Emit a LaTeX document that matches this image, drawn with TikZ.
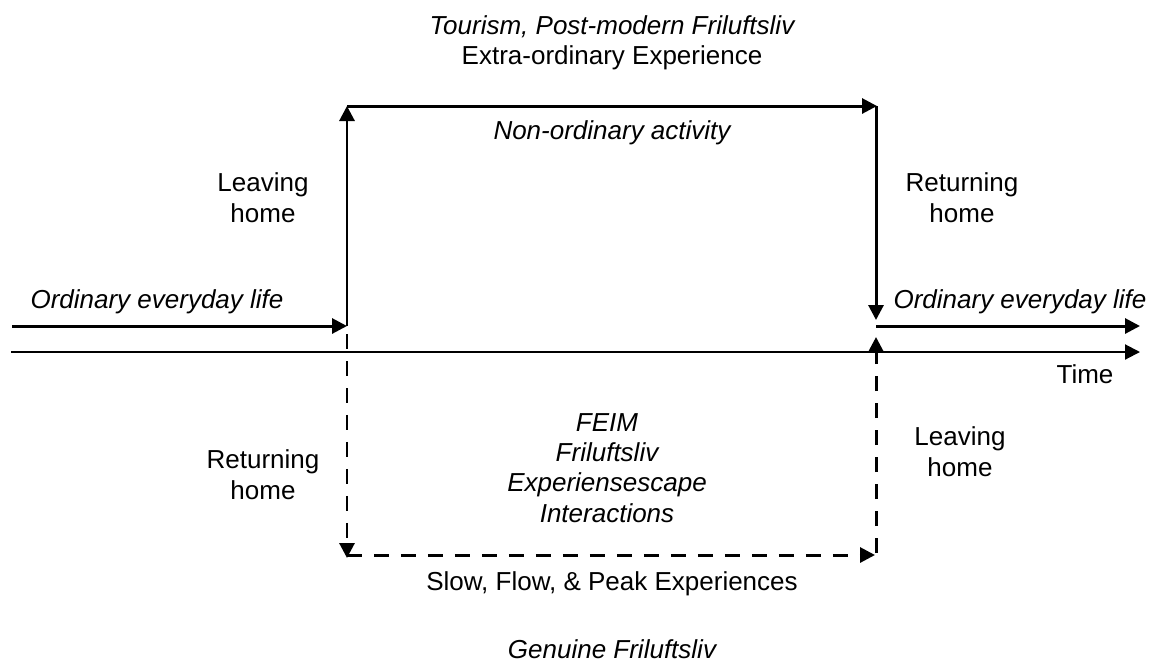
\documentclass[tikz,border=0pt]{standalone}
\usepackage{fontspec}
\setmainfont{Liberation Sans}
\usetikzlibrary{arrows.meta}
\begin{document}
\begin{tikzpicture}[x=0.02cm,y=-0.02cm,
  lbl/.style={font=\fontsize{14.8}{17.1}\selectfont, align=center, inner sep=0pt, anchor=base},
  ilbl/.style={lbl, font=\fontsize{14.8}{17.1}\selectfont\itshape},
  tip/.style={-{Triangle[length=0.3cm,width=0.3cm]}},
  solidflow/.style={line width=1.7pt, tip},
  dashflow/.style={line width=1.7pt, tip, dash pattern=on 0.3cm off 0.24cm},
  axis/.style={line width=1.15pt, tip}
]
\useasboundingbox (0,0) rectangle (1159,664);
% coordinates
\coordinate (L0) at (12,326);
\coordinate (LB) at (347,326);
\coordinate (LT) at (347,106);
\coordinate (RT) at (877,106);
\coordinate (RTd) at (876,106);
\coordinate (RB) at (876,320);
\coordinate (R0) at (876,326);
\coordinate (R1) at (1140,326);
\coordinate (T0) at (11,352);
\coordinate (T1) at (1140,352);
\coordinate (DL0) at (347,334);
\coordinate (DL1) at (347,558);
\coordinate (DB0) at (347,555);
\coordinate (DB1) at (875,555);
\coordinate (DR0) at (876,553);
\coordinate (DR1) at (876,337);
% solid path
\draw[solidflow] (L0) -- (LB);
\draw[solidflow] (LB) -- (LT);
\draw[solidflow] (LT) -- (RT);
\draw[solidflow] (RTd) -- (RB);
\draw[solidflow] (R0) -- (R1);
% time axis
\draw[axis] (T0) -- (T1);
% dashed path
\draw[dashflow] (DL0) -- (DL1);
\draw[dashflow] (DB0) -- (DB1);
\draw[dashflow] (DR0) -- (DR1);
% labels (multi-line nodes: base = baseline of last line)
\node[ilbl] (tour) at (612,34) {Tourism, Post-modern Friluftsliv};
\node[lbl] (extra) at (612,64) {Extra-ordinary Experience};
\node[ilbl] (nonord) at (612,139) {Non-ordinary activity};
\node[lbl] (leave1) at (263,222) {Leaving\\home};
\node[lbl] (ret1) at (962,222) {Returning\\home};
\node[ilbl] (ordL) at (157,308) {Ordinary everyday life};
\node[ilbl] (ordR) at (1020,308) {Ordinary everyday life};
\node[lbl] (time) at (1085,383) {Time};
\node[ilbl] (feim) at (607,522) {FEIM\\Friluftsliv\\Experiensescape\\Interactions};
\node[lbl] (ret2) at (263,499) {Returning\\home};
\node[lbl] (leave2) at (960,476) {Leaving\\home};
\node[lbl] (slow) at (612,590) {Slow, Flow, \& Peak Experiences};
\node[ilbl] (gen) at (612,658) {Genuine Friluftsliv};
\end{tikzpicture}
\end{document}
